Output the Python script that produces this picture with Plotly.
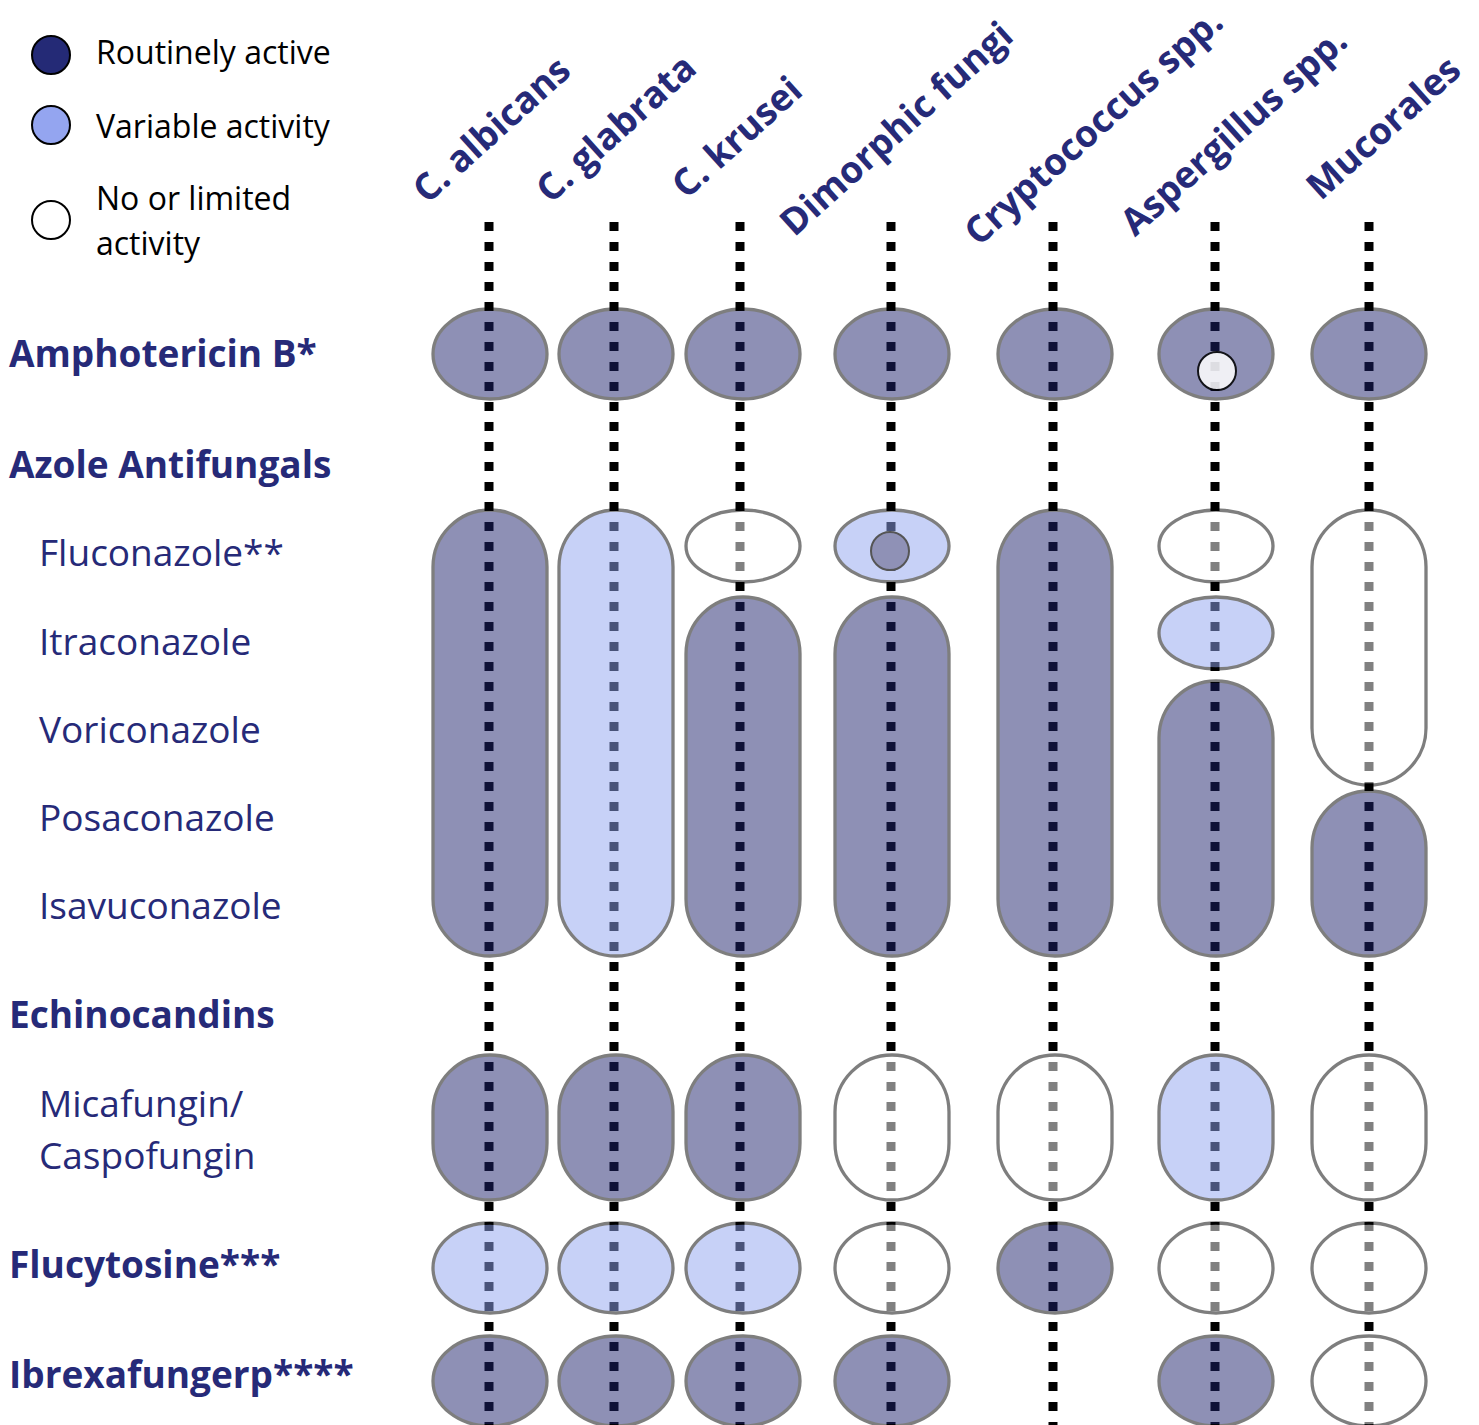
import plotly.graph_objects as go

# ---------------- data ----------------
organisms = ["C. albicans", "C. glabrata", "C. krusei", "Dimorphic fungi",
             "Cryptococcus spp.", "Aspergillus spp.", "Mucorales"]

drug_rows = ["Amphotericin B*", "Fluconazole**", "Itraconazole", "Voriconazole",
             "Posaconazole", "Isavuconazole", "Micafungin/Caspofungin",
             "Flucytosine***", "Ibrexafungerp****"]
drug_group = [0, 1, 1, 1, 1, 1, 2, 3, 4]

# activity levels per organism, one per drug row: R routinely active, V variable, N none/limited, "" no mark
act_albicans = ["R", "R", "R", "R", "R", "R", "R", "V", "R"]
act_glabrata = ["R", "V", "V", "V", "V", "V", "R", "V", "R"]
act_krusei = ["R", "N", "R", "R", "R", "R", "R", "V", "R"]
act_dimorphic = ["R", "V", "R", "R", "R", "R", "N", "N", "R"]
act_cryptococcus = ["R", "R", "R", "R", "R", "R", "N", "R", ""]
act_aspergillus = ["R", "N", "V", "R", "R", "R", "V", "N", "R"]
act_mucorales = ["R", "N", "N", "N", "R", "R", "N", "N", "N"]
activity = [act_albicans, act_glabrata, act_krusei, act_dimorphic,
            act_cryptococcus, act_aspergillus, act_mucorales]

# exceptions drawn as small dots inside a mark
exc_org = ["Dimorphic fungi", "Aspergillus spp."]
exc_row = ["Fluconazole**", "Amphotericin B*"]
exc_level = ["R", "N"]

legend_levels = ["R", "V", "N"]
legend_labels = ["Routinely active", "Variable activity", "No or limited", "activity"]

header_labels = ["Amphotericin B*", "Azole Antifungals", "Echinocandins",
                 "Flucytosine***", "Ibrexafungerp****"]
sub_labels = ["Fluconazole**", "Itraconazole", "Voriconazole", "Posaconazole",
              "Isavuconazole", "Micafungin/", "Caspofungin"]

# ---------------- layout constants (pixel-like axis units) ----------------
W, H = 1479, 1425
PAGE_OFF = 8  # default body margin of the html page
col_x = [489, 614, 740, 891, 1053, 1215, 1369]
shape_dx = [1, 2, 3, 1, 2, 1, 0]
half_w = 57
row_top = [309, 510, 597, 681, 791, 880, 1055, 1223, 1336]
row_bot = [399, 582, 669, 785, 870, 956, 1200, 1313, 1426]
line_top = 222
exc_dx = [-1, 2]
exc_dy = [5, 17]
exc_r = 19

col_label_cx = [490, 614, 735, 895, 1092, 1232, 1382]
col_label_cy = [128, 127, 136, 127, 125, 130, 126]

header_y = [352, 463, 1013, 1263, 1373]
sub_y = [551, 640, 728, 816, 904, 1102, 1154]
legend_y = [55, 125, 220]
legend_text_y = [51, 125, 197, 242]

NAVY = "#262a78"
fill_alpha = {"R": "#1f236d", "V": "#91a5f1", "N": "#ffffff"}
legend_fill = {"R": "#242a76", "V": "#94a5f0", "N": "#ffffff"}

K = 0.5523


def pill_path(x0, x1, y0, y1):
    cx = (x0 + x1) / 2
    rx = (x1 - x0) / 2
    ry = min(rx, (y1 - y0) / 2)
    p = f"M {x0},{y0 + ry} "
    p += f"C {x0},{y0 + ry - K * ry} {cx - K * rx},{y0} {cx},{y0} "
    p += f"C {cx + K * rx},{y0} {x1},{y0 + ry - K * ry} {x1},{y0 + ry} "
    p += f"L {x1},{y1 - ry} "
    p += f"C {x1},{y1 - ry + K * ry} {cx + K * rx},{y1} {cx},{y1} "
    p += f"C {cx - K * rx},{y1} {x0},{y1 - ry + K * ry} {x0},{y1 - ry} Z"
    return p


fig = go.Figure()

# dotted guide lines
for ci, org in enumerate(organisms):
    fig.add_trace(go.Scatter(
        x=[col_x[ci], col_x[ci]], y=[line_top, H + 20], mode="lines",
        line=dict(color="black", width=9, dash="9px,11px"),
        hoverinfo="skip", showlegend=False))

# legend dots
fig.add_trace(go.Scatter(
    x=[51] * len(legend_levels), y=legend_y, mode="markers",
    marker=dict(size=38, color=[legend_fill[l] for l in legend_levels],
                line=dict(color="black", width=2)),
    hoverinfo="skip", showlegend=False))

shapes = []
for ci, org in enumerate(organisms):
    levels = activity[ci]
    sx = col_x[ci] + shape_dx[ci]
    r = 0
    n = len(drug_rows)
    while r < n:
        lev = levels[r]
        if lev == "":
            r += 1
            continue
        e = r
        while e + 1 < n and levels[e + 1] == lev and drug_group[e + 1] == drug_group[r]:
            e += 1
        shapes.append(dict(
            type="path", xref="x", yref="y", layer="above",
            path=pill_path(sx - half_w, sx + half_w, row_top[r], row_bot[e]),
            fillcolor=fill_alpha[lev], opacity=0.5,
            line=dict(color="black", width=3.3)))
        r = e + 1

for k in range(len(exc_org)):
    ci = organisms.index(exc_org[k])
    ri = drug_rows.index(exc_row[k])
    cx = col_x[ci] + exc_dx[k]
    cy = (row_top[ri] + row_bot[ri]) / 2 + exc_dy[k]
    if exc_level[k] == "R":
        sty = dict(fillcolor="#8f91b6", opacity=1.0, line=dict(color="#555555", width=2))
    else:
        sty = dict(fillcolor="#ffffff", opacity=0.86, line=dict(color="black", width=2))
    shapes.append(dict(type="circle", xref="x", yref="y", layer="above",
                       x0=cx - exc_r, x1=cx + exc_r, y0=cy - exc_r, y1=cy + exc_r, **sty))

annotations = []
for ci, org in enumerate(organisms):
    annotations.append(dict(
        x=col_label_cx[ci], y=col_label_cy[ci], xref="x", yref="y", text=org,
        showarrow=False, textangle=-42, xanchor="center", yanchor="middle",
        borderpad=0,
        font=dict(family="Open Sans", size=37, color=NAVY, weight="bold")))

for i, t in enumerate(header_labels):
    annotations.append(dict(
        x=9, y=header_y[i], xref="x", yref="y", text=t, showarrow=False,
        xanchor="left", yanchor="middle", xshift=-2,
        font=dict(family="Open Sans", size=37, color=NAVY, weight="bold")))

for i, t in enumerate(sub_labels):
    annotations.append(dict(
        x=37, y=sub_y[i], xref="x", yref="y", text=t, showarrow=False,
        xanchor="left", yanchor="middle",
        font=dict(family="Open Sans", size=37, color=NAVY)))

for i, t in enumerate(legend_labels):
    annotations.append(dict(
        x=94, y=legend_text_y[i], xref="x", yref="y", text=t, showarrow=False,
        xanchor="left", yanchor="middle",
        font=dict(family="Open Sans", size=32, color="black")))

fig.update_layout(
    width=W, height=H, margin=dict(l=0, r=0, t=0, b=0),
    paper_bgcolor="white", plot_bgcolor="white",
    xaxis=dict(range=[PAGE_OFF, W + PAGE_OFF], visible=False, fixedrange=True),
    yaxis=dict(range=[H + PAGE_OFF, PAGE_OFF], visible=False, fixedrange=True),
    shapes=shapes, annotations=annotations, showlegend=False)

fig.write_html("out.html")
